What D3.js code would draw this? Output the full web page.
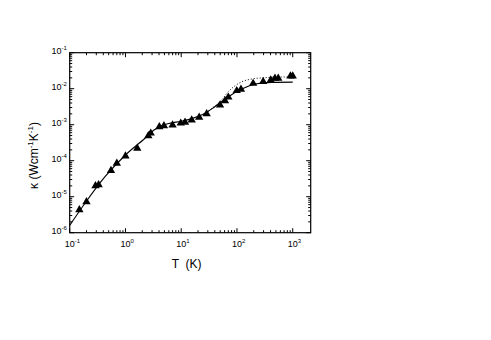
<!DOCTYPE html>
<html>
<head>
<meta charset="utf-8">
<script src="https://cdn.jsdelivr.net/npm/d3@7"></script>
<style>
  body { margin: 0; background: #fff; }
  svg { display: block; font-family: "Liberation Sans", Arial, sans-serif; }
</style>
</head>
<body>
<script>
// measured points (triangles)
const tData = [0.149, 0.20, 0.29, 0.33, 0.55, 0.70, 1.0, 1.63, 2.57, 2.84, 4.05, 4.9, 7.0, 9.8, 11.7,
  15.4, 21, 28.6, 49.7, 61, 70, 99, 118, 195, 295, 403, 480, 550, 910, 1000];
const kData = [4.3e-6, 7.2e-6, 2.0e-5, 2.15e-5, 5.3e-5, 8.5e-5, 1.35e-4, 2.2e-4, 4.9e-4, 5.8e-4,
  8.7e-4, 9.3e-4, 9.8e-4, 1.1e-3, 1.17e-3, 1.35e-3, 1.6e-3, 2.0e-3, 3.5e-3, 4.6e-3, 5.8e-3,
  8.8e-3, 9.6e-3, 1.4e-2, 1.57e-2, 1.74e-2, 1.94e-2, 1.94e-2, 2.25e-2, 2.25e-2];

// solid fit curve
const tFit = [0.1, 0.188, 0.43, 1.0, 2.24, 3.2, 4.47, 6, 10, 16, 26.7, 40, 70, 122, 211, 420, 1000];
const kFit = [1.6e-6, 6.6e-6, 3.6e-5, 1.44e-4, 4.2e-4, 7.0e-4, 9.4e-4, 1.08e-3, 1.25e-3, 1.5e-3,
  2.07e-3, 3.16e-3, 6.0e-3, 9.8e-3, 1.35e-2, 1.5e-2, 1.52e-2];

// dotted fit curve
const tDot = [25, 35, 53, 70, 92, 122, 184, 318, 482, 1000];
const kDot = [1.95e-3, 2.8e-3, 4.85e-3, 8.3e-3, 1.2e-2, 1.56e-2, 1.86e-2, 2.02e-2, 2.1e-2, 2.12e-2];

const xMajor = [1e-1, 1e0, 1e1, 1e2, 1e3];
const xExp = ["-1", "0", "1", "2", "3"];
const yMajor = [1e-6, 1e-5, 1e-4, 1e-3, 1e-2, 1e-1];
const yExp = ["-6", "-5", "-4", "-3", "-2", "-1"];

const width = 491, height = 340;
const plotL = 69.7, plotR = 310.7, plotT = 52.7, plotB = 232.7;

const svg = d3.select("body").append("svg")
  .attr("width", width)
  .attr("height", height);

const x = d3.scaleLog().domain([0.1, 2100]).range([plotL, plotR]);
const y = d3.scaleLog().domain([1e-6, 1e-1]).range([plotB, plotT]);

// minor ticks
const xMinor = [];
for (let d = -1; d < 3; d++) for (let m = 2; m <= 9; m++) xMinor.push(m * Math.pow(10, d));
const yMinor = [];
for (let d = -6; d < -1; d++) for (let m = 2; m <= 9; m++) yMinor.push(m * Math.pow(10, d));

const axes = svg.append("g").attr("stroke", "#000").attr("stroke-width", 1);

function hTicks(vals, len) {
  vals.forEach(v => {
    const px = x(v);
    axes.append("line").attr("x1", px).attr("x2", px).attr("y1", plotB).attr("y2", plotB - len);
    axes.append("line").attr("x1", px).attr("x2", px).attr("y1", plotT).attr("y2", plotT + len);
  });
}
function vTicks(vals, len) {
  vals.forEach(v => {
    const py = y(v);
    axes.append("line").attr("x1", plotL).attr("x2", plotL + len).attr("y1", py).attr("y2", py);
    axes.append("line").attr("x1", plotR).attr("x2", plotR - len).attr("y1", py).attr("y2", py);
  });
}
hTicks(xMajor, 4.5);
hTicks(xMinor, 2.5);
vTicks(yMajor, 4.5);
vTicks(yMinor, 2.5);

axes.append("rect")
  .attr("x", plotL).attr("y", plotT)
  .attr("width", plotR - plotL).attr("height", plotB - plotT)
  .attr("fill", "none")
  .attr("stroke-width", 1.2);

// tick labels
const xl = svg.append("g").attr("font-size", 9).attr("fill", "#000");
xMajor.forEach((v, i) => {
  const t = xl.append("text").attr("x", x(v) - 5).attr("y", plotB + 14.5);
  t.append("tspan").text("10");
  t.append("tspan").attr("font-size", 6).attr("dy", -4).text(xExp[i]);
});
const yl = svg.append("g").attr("font-size", 9).attr("fill", "#000");
yMajor.forEach((v, i) => {
  const t = yl.append("text").attr("x", 51.5).attr("y", y(v) + 1);
  t.append("tspan").text("10");
  t.append("tspan").attr("font-size", 6).attr("dy", -4).text(yExp[i]);
});

// axis titles
svg.append("text")
  .attr("x", 186.7).attr("y", 267.5)
  .attr("text-anchor", "middle")
  .attr("font-size", 12)
  .attr("xml:space", "preserve")
  .text("T  (K)");

const yt = svg.append("text")
  .attr("transform", "translate(38,155.5) rotate(-90)")
  .attr("text-anchor", "middle")
  .attr("font-size", 12);
yt.append("tspan").text("κ (Wcm");
yt.append("tspan").attr("font-size", 8).attr("dy", -5).text("-1");
yt.append("tspan").attr("dy", 5).text("K");
yt.append("tspan").attr("font-size", 8).attr("dy", -5).text("-1");
yt.append("tspan").attr("dy", 5).text(")");

// curves
const line = d3.line()
  .curve(d3.curveMonotoneX)
  .x(d => x(d[0]))
  .y(d => y(d[1]));

svg.append("path")
  .datum(tDot.map((t, i) => [t, kDot[i]]))
  .attr("d", line)
  .attr("fill", "none")
  .attr("stroke", "#000")
  .attr("stroke-width", 1)
  .attr("stroke-dasharray", "1,2");

svg.append("path")
  .datum(tFit.map((t, i) => [t, kFit[i]]))
  .attr("d", line)
  .attr("fill", "none")
  .attr("stroke", "#000")
  .attr("stroke-width", 1.1);

// markers
const tri = d3.symbol().type(d3.symbolTriangle).size(30);
svg.append("g")
  .selectAll("path")
  .data(tData.map((t, i) => [t, kData[i]]))
  .join("path")
  .attr("d", tri)
  .attr("transform", d => `translate(${x(d[0])},${y(d[1])})`)
  .attr("fill", "#000");
</script>
</body>
</html>
